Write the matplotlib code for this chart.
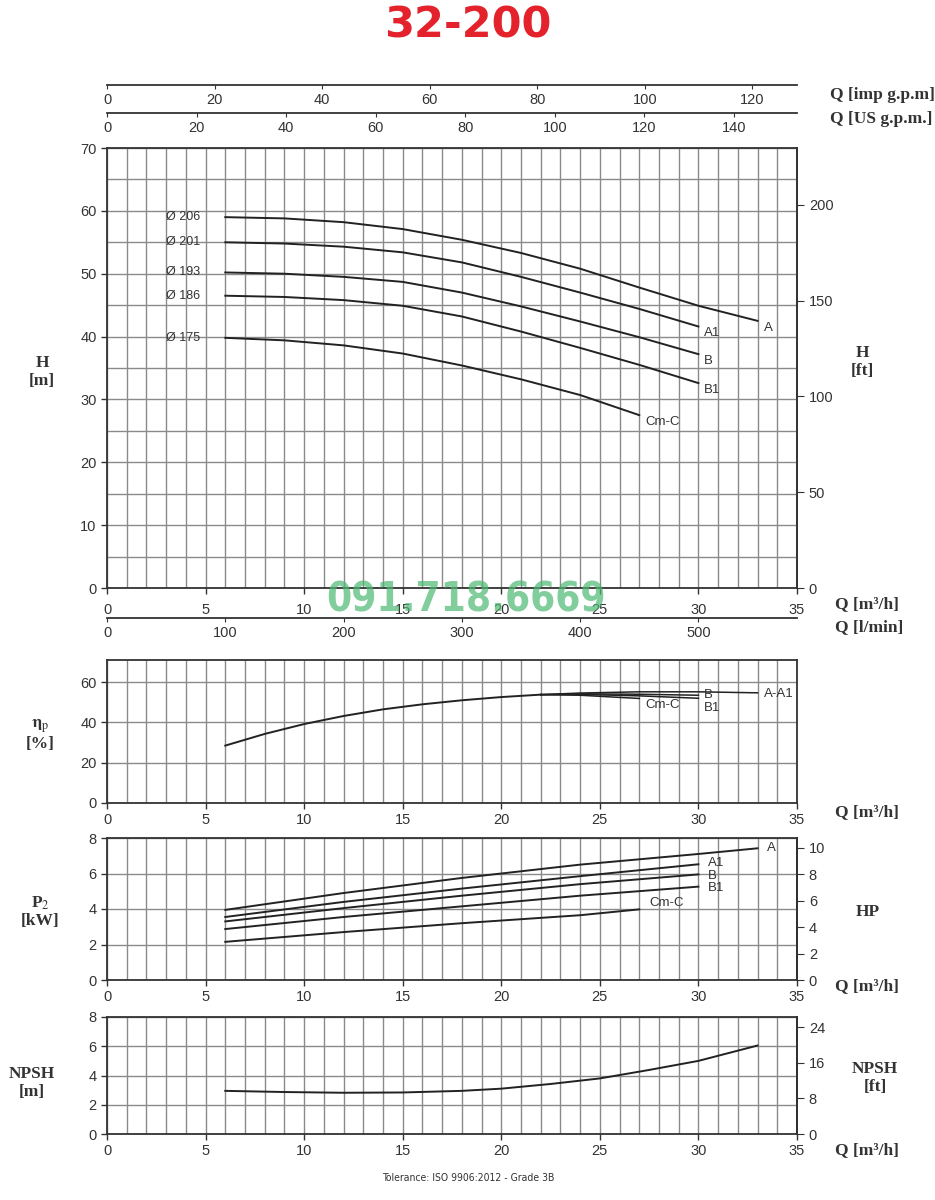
import numpy as np
import matplotlib
matplotlib.use('Agg')
import matplotlib.pyplot as plt

plt.rcParams['font.family'] = ['Liberation Sans', 'DejaVu Sans']
plt.rcParams['mathtext.fontset'] = 'stix'

# Head curves (Q in m3/h, H in m), one per impeller
q_a = [6, 9, 12, 15, 18, 21, 24, 27, 30, 33]
h_a = [59.0, 58.8, 58.2, 57.1, 55.4, 53.3, 50.8, 47.8, 44.9, 42.5]
q_ab = [6, 9, 12, 15, 18, 21, 24, 27, 30]
h_a1 = [55.0, 54.8, 54.3, 53.4, 51.8, 49.5, 47.0, 44.4, 41.6]
h_b = [50.2, 50.0, 49.5, 48.7, 47.0, 44.8, 42.4, 39.9, 37.2]
h_b1 = [46.5, 46.3, 45.8, 44.9, 43.2, 40.8, 38.2, 35.5, 32.6]
q_c = [6, 9, 12, 15, 18, 21, 24, 27]
h_c = [39.8, 39.4, 38.6, 37.3, 35.4, 33.2, 30.7, 27.5]
diam_labels = ['Ø 206', 'Ø 201', 'Ø 193', 'Ø 186', 'Ø 175']
curve_names = ['A', 'A1', 'B', 'B1', 'Cm-C']

# Efficiency [%]
q_eff = [6, 8, 10, 12, 14, 16, 18, 20, 22]
eff_common = [28.5, 34.3, 39.2, 43.2, 46.5, 49.0, 51.0, 52.6, 53.8]
q_eff_a = [22, 24, 27, 30, 33]
eff_a = [53.8, 54.6, 55.2, 55.2, 54.7]
q_eff_b = [22, 24, 27, 30]
eff_b = [53.8, 54.2, 54.0, 53.5]
eff_b1 = [53.8, 53.9, 53.2, 52.0]
q_eff_c = [22, 24, 27]
eff_c = [53.8, 53.5, 51.9]

# Power P2 [kW]
q_pa = [6, 12, 18, 24, 30, 33]
p_a = [3.95, 4.9, 5.75, 6.5, 7.1, 7.42]
q_pb = [6, 12, 18, 24, 30]
p_a1 = [3.55, 4.4, 5.15, 5.85, 6.52]
p_b = [3.3, 4.05, 4.75, 5.4, 5.95]
p_b1 = [2.87, 3.55, 4.15, 4.75, 5.26]
q_pc = [6, 12, 18, 24, 27]
p_c = [2.15, 2.7, 3.2, 3.65, 3.98]

# NPSH [m]
q_npsh = [6, 9, 12, 15, 18, 20, 22.5, 25, 27.5, 30, 33]
npsh = [2.95, 2.87, 2.82, 2.84, 2.95, 3.1, 3.42, 3.8, 4.38, 5.0, 6.05]

QMAX = 35
GRID = '#8a8a8a'
INK = '#222222'
TXT = '#333333'
W_PX, H_PX = 935, 1200

fig = plt.figure(figsize=(9.35, 12), dpi=100)


def fx(x):
    return x / W_PX


def fy(y):
    return 1 - y / H_PX


def serif_label(x, y, s, ha='center'):
    fig.text(fx(x), fy(y), s, ha=ha, va='center', fontsize=12.5,
             family='Liberation Serif', weight='bold', color='#333333',
             linespacing=1.1)


def style_panel(ax, ylim, ystep, grid_step):
    ax.set_xlim(0, QMAX)
    ax.set_ylim(*ylim)
    ax.set_xticks(np.arange(0, QMAX + 1, 5))
    ax.set_xticks(np.arange(0, QMAX + 1, 1), minor=True)
    ax.set_yticks(np.arange(0, ylim[1] + 0.01, ystep))
    ax.set_yticks(np.arange(0, ylim[1] + 0.01, grid_step), minor=True)
    ax.grid(True, which='both', color=GRID, lw=1.0)
    ax.set_axisbelow(True)
    ax.tick_params(which='both', labelsize=10.5, colors=TXT, length=4,
                   width=1)
    ax.tick_params(which='minor', length=0)
    for sp in ax.spines.values():
        sp.set_color('#333333')
        sp.set_linewidth(1.3)


def scale_line(y_px, vmax, step):
    a = fig.add_axes([fx(107), fy(y_px), fx(690), 0.0001])
    a.set_xlim(0, vmax)
    a.set_xticks(np.arange(0, vmax, step))
    a.set_yticks([])
    for k in ('top', 'left', 'right'):
        a.spines[k].set_visible(False)
    a.spines['bottom'].set_color('#333333')
    a.spines['bottom'].set_linewidth(1.3)
    a.tick_params(axis='x', labelsize=10.5, colors=TXT, length=3, pad=3)
    a.patch.set_visible(False)
    return a


L, WD = fx(107), fx(690)

# ---- head chart ----
ax = fig.add_axes([L, fy(588), WD, 440 / H_PX])
style_panel(ax, (0, 70), 10, 5)
ax.tick_params(axis='x', pad=7)
heads = [(q_a, h_a), (q_ab, h_a1), (q_ab, h_b), (q_ab, h_b1), (q_c, h_c)]
for (q, h), d, name in zip(heads, diam_labels, curve_names):
    ax.plot(q, h, color=INK, lw=1.4)
    ax.text(q[0] - 3.0, h[0], d, fontsize=9, color=TXT, va='center',
            ha='left')
    ax.text(q[-1] + 0.3, h[-1] - 1.1, name, fontsize=9.5, color=TXT,
            va='center', ha='left')
ax_ft = ax.secondary_yaxis('right', functions=(lambda m: m / 0.3048,
                                                 lambda f: f * 0.3048))
ax_ft.set_yticks([0, 50, 100, 150, 200])
ax_ft.tick_params(labelsize=10.5, colors=TXT, length=5)
ax_ft.spines['right'].set_color('#333333')
ax_ft.spines['right'].set_linewidth(1.3)

scale_line(85, QMAX * 3.6662, 20)
scale_line(113, QMAX * 4.4029, 20)
scale_line(618, QMAX * 16.667, 100)

serif_label(830, 95, 'Q [imp g.p.m]', ha='left')
serif_label(830, 119, 'Q [US g.p.m.]', ha='left')
serif_label(835, 604, 'Q [m³/h]', ha='left')
serif_label(835, 627, 'Q [l/min]', ha='left')
serif_label(42, 372, 'H\n[m]')
serif_label(862, 362, 'H\n[ft]')

# ---- efficiency ----
ax2 = fig.add_axes([L, fy(803), WD, 143 / H_PX])
style_panel(ax2, (0, 71), 20, 20)
ax2.plot(q_eff, eff_common, color=INK, lw=1.4)
for q, e, name, dy in [(q_eff_a, eff_a, 'A-A1', 0),
                       (q_eff_b, eff_b, 'B', 0.5),
                       (q_eff_b, eff_b1, 'B1', -4.5),
                       (q_eff_c, eff_c, 'Cm-C', -2.5)]:
    ax2.plot(q, e, color=INK, lw=1.1)
    ax2.text(q[-1] + 0.3, e[-1] + dy - 0.5, name, fontsize=9.5, color=TXT,
             va='center', ha='left')
serif_label(40, 735, r'$\mathbf{\eta}_{\mathrm{p}}$' + '\n[%]')
serif_label(835, 812, 'Q [m³/h]', ha='left')

# ---- power ----
ax3 = fig.add_axes([L, fy(980), WD, 142 / H_PX])
style_panel(ax3, (0, 8), 2, 2)
powers = [(q_pa, p_a), (q_pb, p_a1), (q_pb, p_b), (q_pb, p_b1), (q_pc, p_c)]
offs = [0.0, 0.05, -0.1, -0.05, 0.35]
for (q, p), name, dy in zip(powers, curve_names, offs):
    ax3.plot(q, p, color=INK, lw=1.4)
    ax3.text(q[-1] + 0.5, p[-1] + dy, name, fontsize=9.5, color=TXT,
             va='center', ha='left')
ax_hp = ax3.secondary_yaxis('right', functions=(lambda k: k / 0.7457,
                                                  lambda h: h * 0.7457))
ax_hp.set_yticks([0, 2, 4, 6, 8, 10])
ax_hp.tick_params(labelsize=10.5, colors=TXT, length=5)
ax_hp.spines['right'].set_linewidth(1.3)
serif_label(40, 912, 'P$_2$\n[kW]')
serif_label(868, 912, 'HP')
serif_label(835, 986, 'Q [m³/h]', ha='left')

# ---- NPSH ----
ax4 = fig.add_axes([L, fy(1134), WD, 117 / H_PX])
style_panel(ax4, (0, 8), 2, 2)
ax4.plot(q_npsh, npsh, color=INK, lw=1.4)
ax_nf = ax4.secondary_yaxis('right', functions=(lambda m: m / 0.3048,
                                                  lambda f: f * 0.3048))
ax_nf.set_yticks([0, 8, 16, 24])
ax_nf.tick_params(labelsize=10.5, colors=TXT, length=5)
ax_nf.spines['right'].set_linewidth(1.3)
serif_label(32, 1083, 'NPSH\n[m]')
serif_label(875, 1078, 'NPSH\n[ft]')
serif_label(835, 1150, 'Q [m³/h]', ha='left')

# ---- titles and notes ----
fig.text(0.5, fy(25), '32-200', color='#e3222b', fontsize=31,
         weight='heavy', ha='center', va='center', family='DejaVu Sans')
fig.text(fx(466), fy(600), '091.718.6669', color='#4cb872', alpha=0.7,
         fontsize=29, ha='center', va='center', weight='bold',
         stretch='condensed', family='DejaVu Sans', zorder=10)
fig.text(fx(468), fy(1178), 'Tolerance: ISO 9906:2012 - Grade 3B',
         fontsize=7.5, color=TXT, ha='center', va='center',
         stretch='condensed', family='DejaVu Sans')

fig.savefig('out.png', dpi=100)
